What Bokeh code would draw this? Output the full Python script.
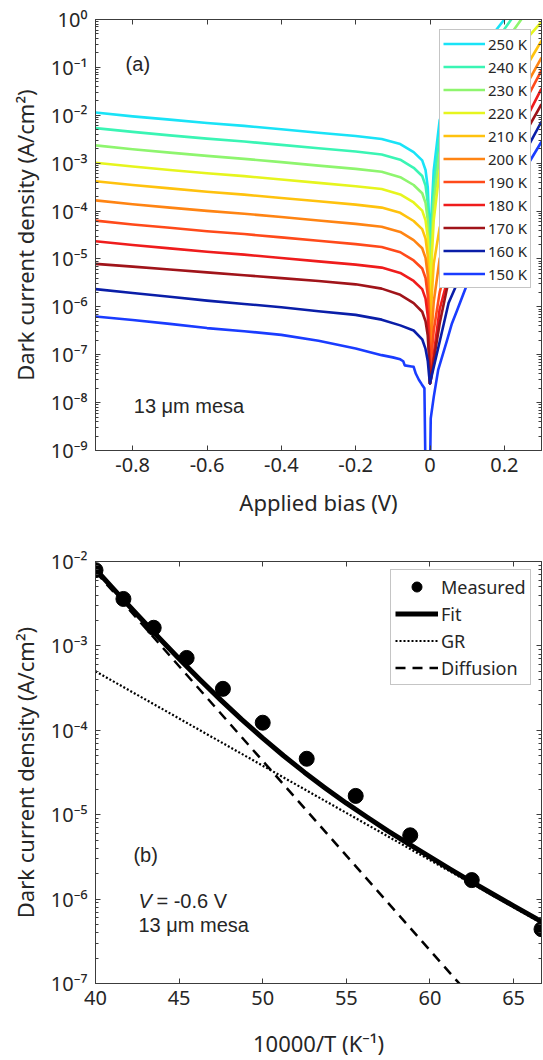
from bokeh.plotting import figure
from bokeh.layouts import column
from bokeh.models import (FixedTicker, CustomJSTickFormatter, LogAxis, LinearAxis,
                          Legend, LegendItem, Label)
from bokeh.embed import file_html
from bokeh.resources import INLINE

# ---------------- Panel (a): dark current density vs applied bias ----------------
temperatures = ["250 K", "240 K", "230 K", "220 K", "210 K", "200 K",
                "190 K", "180 K", "170 K", "160 K", "150 K"]
line_colors = ["#19e3f7", "#3af5b4", "#8ef56e", "#e6f51e", "#ffc20e", "#ff8413",
               "#ff4a1a", "#ef1c1c", "#a0141a", "#0a1ea8", "#1a3cff"]

bias = [-0.9, -0.8, -0.7, -0.6, -0.5, -0.4, -0.3, -0.2, -0.13, -0.08, -0.044, -0.021,
        -0.012, -0.006, -0.0025, 0.0, 0.003, 0.01, 0.026, 0.05, 0.1, 0.15, 0.2, 0.25, 0.3]

j_250k = [1.14e-2, 9.5e-3, 8.1e-3, 6.9e-3, 6.0e-3, 5.1e-3, 4.3e-3, 3.7e-3, 3.2e-3, 2.5e-3,
          1.7e-3, 1.14e-3, 7.2e-4, 3.1e-4, 6.3e-5, 2.5e-8, 6.3e-5, 7.1e-4, 7.9e-3, 2.5e-2,
          0.1, 0.32, 1.0, 3.2, 10.0]
j_240k = [5.4e-3, 4.5e-3, 3.8e-3, 3.25e-3, 2.83e-3, 2.41e-3, 2.05e-3, 1.75e-3, 1.52e-3, 1.18e-3,
          8.0e-4, 5.4e-4, 3.4e-4, 1.49e-4, 3.0e-5, 2.5e-8, 2.8e-5, 3.2e-4, 3.5e-3, 1.17e-2,
          5.0e-2, 0.17, 0.63, 2.2, 7.9]
j_230k = [2.35e-3, 1.95e-3, 1.66e-3, 1.42e-3, 1.23e-3, 1.05e-3, 8.9e-4, 7.6e-4, 6.6e-4, 5.1e-4,
          3.5e-4, 2.35e-4, 1.48e-4, 6.5e-5, 1.29e-5, 2.5e-8, 1.29e-5, 1.48e-4, 1.63e-3, 5.6e-3,
          2.5e-2, 8.9e-2, 0.32, 1.12, 4.0]
j_220k = [1.02e-3, 8.5e-4, 7.2e-4, 6.15e-4, 5.36e-4, 4.56e-4, 3.88e-4, 3.3e-4, 2.88e-4, 2.23e-4,
          1.51e-4, 1.02e-4, 6.4e-5, 2.8e-5, 5.6e-6, 2.5e-8, 5.6e-6, 6.4e-5, 7.1e-4, 2.24e-3,
          8.9e-3, 3.2e-2, 0.1, 0.32, 0.89]
j_210k = [4.2e-4, 3.49e-4, 2.97e-4, 2.53e-4, 2.2e-4, 1.87e-4, 1.6e-4, 1.36e-4, 1.18e-4, 9.2e-5,
          6.2e-5, 4.2e-5, 2.65e-5, 1.16e-5, 2.3e-6, 2.5e-8, 1.0e-6, 7.9e-6, 4.5e-5, 1.41e-4,
          7.1e-4, 3.5e-3, 1.78e-2, 7.9e-2, 0.36]
j_200k = [1.67e-4, 1.39e-4, 1.18e-4, 1.01e-4, 8.8e-5, 7.5e-5, 6.35e-5, 5.4e-5, 4.7e-5, 3.66e-5,
          2.47e-5, 1.67e-5, 1.05e-5, 4.6e-6, 9.2e-7, 2.5e-8, 2.0e-7, 1.26e-6, 1.0e-5, 3.5e-5,
          2.0e-4, 1.12e-3, 6.3e-3, 3.2e-2, 0.16]
j_190k = [6.3e-5, 5.25e-5, 4.47e-5, 3.8e-5, 3.31e-5, 2.82e-5, 2.4e-5, 2.04e-5, 1.78e-5, 1.38e-5,
          9.3e-6, 6.3e-6, 4.0e-6, 1.74e-6, 3.5e-7, 2.5e-8, 7.9e-8, 3.2e-7, 2.0e-6, 1.12e-5,
          7.1e-5, 4.5e-4, 2.8e-3, 1.58e-2, 8.7e-2]
j_180k = [2.34e-5, 1.95e-5, 1.66e-5, 1.41e-5, 1.23e-5, 1.05e-5, 8.9e-6, 7.6e-6, 6.6e-6, 5.1e-6,
          3.47e-6, 2.34e-6, 1.48e-6, 6.5e-7, 1.29e-7, 2.5e-8, 3.5e-8, 1.0e-7, 8.9e-7, 4.5e-6,
          2.5e-5, 1.58e-4, 1.0e-3, 6.3e-3, 3.6e-2]
j_170k = [7.9e-6, 6.9e-6, 6.0e-6, 5.25e-6, 4.57e-6, 3.98e-6, 3.47e-6, 2.95e-6, 2.4e-6, 1.78e-6,
          1.2e-6, 7.9e-7, 5.0e-7, 2.5e-7, 7.9e-8, 2.5e-8, 3.2e-8, 7.6e-8, 4.5e-7, 3.5e-6,
          2.0e-5, 1.12e-4, 6.3e-4, 3.5e-3, 1.7e-2]
j_160k = [2.34e-6, 1.95e-6, 1.62e-6, 1.35e-6, 1.15e-6, 9.8e-7, 8.1e-7, 6.8e-7, 5.4e-7, 4.1e-7,
          3.2e-7, 2.1e-7, 1.32e-7, 7.4e-8, 3.7e-8, 2.5e-8, 3.2e-8, 5.5e-8, 1.86e-7, 1.2e-6,
          9.3e-6, 5.0e-5, 2.6e-4, 1.4e-3, 7.4e-3]

bias_150k = [-0.9, -0.8, -0.7, -0.6, -0.5, -0.4, -0.3, -0.2, -0.13, -0.1, -0.08, -0.072,
             -0.068, -0.05, -0.044, -0.038, -0.03, -0.022, -0.015, -0.012, 0.0, 0.002,
             0.01, 0.022, 0.045, 0.059, 0.073, 0.097, 0.15, 0.2, 0.25, 0.3]
j_150k = [6.3e-7, 5.3e-7, 4.4e-7, 3.6e-7, 3.1e-7, 2.6e-7, 1.95e-7, 1.35e-7, 9.8e-8, 8.8e-8,
          8.0e-8, 7.3e-8, 6.0e-8, 5.7e-8, 5.6e-8, 4.0e-8, 3.0e-8, 2.4e-8, 2.0e-8, 3e-10,
          3e-10, 4.7e-9, 1.3e-8, 4.8e-8, 1.9e-7, 4.5e-7, 8.5e-7, 2.6e-6, 1.8e-5, 1.1e-4,
          6.3e-4, 2.8e-3]

yticks_a = [1e-9, 1e-8, 1e-7, 1e-6, 1e-5, 1e-4, 1e-3, 1e-2, 1e-1, 1e0]
xticks_a = [-0.8, -0.6, -0.4, -0.2, 0.0, 0.2]

# ---------------- Panel (b): Arrhenius plot at V = -0.6 V ----------------
inv_temp_measured = [40.0, 41.67, 43.48, 45.45, 47.62, 50.0, 52.63, 55.56, 58.82, 62.5, 66.67]
j_measured = [7.9e-3, 3.6e-3, 1.64e-3, 7.2e-4, 3.1e-4, 1.23e-4, 4.6e-5, 1.67e-5, 5.7e-6,
              1.68e-6, 4.4e-7]
inv_temp_fit = [40.0, 41.25, 42.5, 43.75, 45.0, 46.25, 47.5, 48.75, 50.0, 51.25, 52.5,
                53.75, 55.0, 56.25, 57.5, 58.75, 60.0, 61.25, 62.5, 63.75, 65.0, 66.67]
j_fit = [8.1e-3, 4.33e-3, 2.34e-3, 1.275e-3, 7.05e-4, 3.97e-4, 2.28e-4, 1.338e-4, 8.07e-5,
         4.99e-5, 3.17e-5, 2.064e-5, 1.37e-5, 9.33e-6, 6.4e-6, 4.48e-6, 3.16e-6, 2.24e-6,
         1.6e-6, 1.15e-6, 8.3e-7, 5.4e-7]
inv_temp_gr = [40.0, 66.67]
j_gr = [5.0e-4, 5.2e-7]
inv_temp_diff = [40.0, 62.5]
j_diff = [7.6e-3, 6.8e-8]

yticks_b = [1e-7, 1e-6, 1e-5, 1e-4, 1e-3, 1e-2]
xticks_b = [40, 45, 50, 55, 60, 65]

# ---------------- styling helpers ----------------
AX = "#3c3c3c"
TXT = "#262626"
FONT = "Noto Sans"

SUP_JS = r"""
const sup = {"-": "\u207b", "0": "\u2070", "1": "\u00b9", "2": "\u00b2", "3": "\u00b3",
             "4": "\u2074", "5": "\u2075", "6": "\u2076", "7": "\u2077", "8": "\u2078", "9": "\u2079"};
const e = Math.round(Math.log10(tick));
let s = "";
for (const c of String(e)) { s += sup[c]; }
return "10" + s;
"""
BLANK_JS = "return '';"


def minor_list(k0, k1):
    return [m * 10.0 ** k for k in range(k0, k1) for m in range(2, 10)]


def style_axis(ax, minor=True):
    ax.axis_line_color = AX
    ax.major_tick_line_color = AX
    ax.minor_tick_line_color = AX if minor else None
    ax.major_tick_in = 5
    ax.major_tick_out = 0
    ax.minor_tick_in = 3
    ax.minor_tick_out = 0
    ax.major_label_text_font = FONT
    ax.major_label_text_font_size = "20px"
    ax.major_label_text_color = TXT
    ax.axis_label_text_font = FONT
    ax.axis_label_text_font_size = "22px"
    ax.axis_label_text_font_style = "normal"
    ax.axis_label_text_color = TXT


def blank_axis(ax, minor=True):
    style_axis(ax, minor)
    ax.formatter = CustomJSTickFormatter(code=BLANK_JS)
    ax.major_label_text_font_size = "0px"
    ax.major_label_standoff = 0
    ax.axis_label_standoff = 0


def make_panel(xr, yr, xticks, yticks, ydec, top_border, bottom_border, xformatter,
               xlabel, ylabel, xlabel_standoff):
    p = figure(width=543, height=530, x_range=xr, y_range=yr, y_axis_type="log",
               output_backend="svg", toolbar_location=None)
    p.min_border_left = 95
    p.min_border_right = 2
    p.min_border_top = top_border
    p.min_border_bottom = bottom_border
    p.grid.visible = False
    p.outline_line_color = AX
    p.background_fill_color = "white"
    p.border_fill_color = "white"

    yt = FixedTicker(ticks=yticks, minor_ticks=minor_list(ydec[0], ydec[1]))
    xt = FixedTicker(ticks=xticks)

    left_ax = p.left[0]
    bottom_ax = p.below[0]

    left_ax.ticker = yt
    left_ax.formatter = CustomJSTickFormatter(code=SUP_JS)
    style_axis(left_ax)
    left_ax.major_label_standoff = 8
    left_ax.axis_label_standoff = 8
    left_ax.axis_label = ylabel

    bottom_ax.ticker = xt
    bottom_ax.formatter = xformatter
    style_axis(bottom_ax, minor=False)
    bottom_ax.major_label_standoff = 7
    bottom_ax.axis_label_standoff = xlabel_standoff
    bottom_ax.axis_label = xlabel

    ra = LogAxis(ticker=yt)
    blank_axis(ra)
    p.add_layout(ra, "right")
    ta = LinearAxis(ticker=xt)
    blank_axis(ta, minor=False)
    p.add_layout(ta, "above")
    return p


# ---------------- Panel (a) ----------------
fmt_a = CustomJSTickFormatter(code="return (Math.abs(tick) < 1e-9) ? '0' : tick.toFixed(1);")
pa = make_panel((-0.9, 0.3), (1e-9, 1e0), xticks_a, yticks_a, (-9, 0), 19, 80, fmt_a,
                "Applied bias (V)", "Dark current density (A/cm\u00b2)", 12)

series_a = [j_250k, j_240k, j_230k, j_220k, j_210k, j_200k, j_190k, j_180k, j_170k, j_160k]
items_a = []
for name, col, js in zip(temperatures[:-1], line_colors[:-1], series_a):
    r = pa.line(bias, js, line_color=col, line_width=2.6, line_join="round")
    items_a.append(LegendItem(label=name, renderers=[r]))
r150 = pa.line(bias_150k, j_150k, line_color=line_colors[-1], line_width=2.6, line_join="round")
items_a.append(LegendItem(label=temperatures[-1], renderers=[r150]))

leg_a = Legend(items=items_a, location=(344, 162))
leg_a.label_text_font = FONT
leg_a.label_text_font_size = "15px"
leg_a.label_text_color = TXT
leg_a.glyph_width = 42
leg_a.glyph_height = 21
leg_a.label_height = 21
leg_a.label_standoff = 3
leg_a.spacing = 2
leg_a.padding = 3
leg_a.margin = 0
leg_a.border_line_color = "#8c8c8c"
leg_a.background_fill_color = "white"
leg_a.background_fill_alpha = 1.0
pa.add_layout(leg_a)

pa.add_layout(Label(x=-0.819, y=0.12, text="(a)", text_font="Liberation Sans",
                    text_font_size="20px", text_color=TXT, text_baseline="middle"))
pa.add_layout(Label(x=-0.797, y=8.7e-9, text="13 \u03bcm mesa", text_font="Liberation Sans",
                    text_font_size="20px", text_color=TXT, text_baseline="middle"))

# ---------------- Panel (b) ----------------
fmt_b = CustomJSTickFormatter(code="return tick.toFixed(0);")
pb = make_panel((40, 66.67), (1e-7, 1e-2), xticks_b, yticks_b, (-7, -2), 31, 77, fmt_b,
                "10000/T (K\u207b\u00b9)", "Dark current density (A/cm\u00b2)", 20)

r_meas = pb.scatter(inv_temp_measured, j_measured, size=15, marker="circle",
                    fill_color="black", line_color="black")
r_fit = pb.line(inv_temp_fit, j_fit, line_color="black", line_width=5, line_join="round")
r_gr = pb.line(inv_temp_gr, j_gr, line_color="black", line_width=2.2, line_dash="2 2")
r_diff = pb.line(inv_temp_diff, j_diff, line_color="black", line_width=2.5, line_dash="10 7")

leg_b = Legend(items=[LegendItem(label="Measured", renderers=[r_meas]),
                      LegendItem(label="Fit", renderers=[r_fit]),
                      LegendItem(label="GR", renderers=[r_gr]),
                      LegendItem(label="Diffusion", renderers=[r_diff])],
               location=(295, 298))
leg_b.label_text_font = FONT
leg_b.label_text_font_size = "18px"
leg_b.label_text_color = TXT
leg_b.glyph_width = 43
leg_b.glyph_height = 25
leg_b.label_height = 25
leg_b.label_standoff = 3
leg_b.spacing = 2
leg_b.padding = 4
leg_b.margin = 0
leg_b.border_line_color = "#8c8c8c"
leg_b.background_fill_color = "white"
leg_b.background_fill_alpha = 1.0
pb.add_layout(leg_b)

pb.add_layout(Label(x=42.27, y=3.3e-6, text="(b)", text_font="Liberation Sans",
                    text_font_size="20px", text_color=TXT, text_baseline="middle"))
pb.add_layout(Label(x=42.57, y=9.6e-7, text="V", text_font="Liberation Sans",
                    text_font_style="italic", text_font_size="20px", text_color=TXT,
                    text_baseline="middle"))
pb.add_layout(Label(x=42.57, y=9.6e-7, x_offset=18, text="= -0.6 V", text_font="Liberation Sans",
                    text_font_size="20px", text_color=TXT, text_baseline="middle"))
pb.add_layout(Label(x=42.57, y=4.9e-7, text="13 \u03bcm mesa", text_font="Liberation Sans",
                    text_font_size="20px", text_color=TXT, text_baseline="middle"))

layout = column(pa, pb, spacing=0)
open("out.html", "w").write(file_html(layout, INLINE))
